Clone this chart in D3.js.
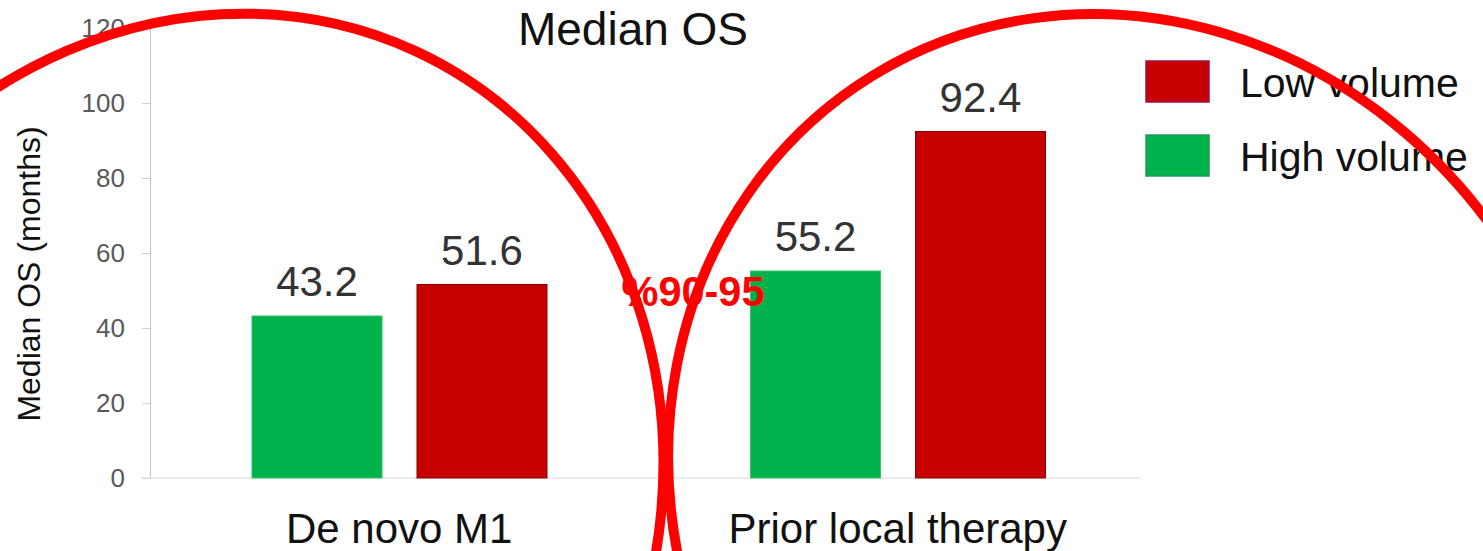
<!DOCTYPE html>
<html>
<head>
<meta charset="utf-8">
<script src="https://cdn.jsdelivr.net/npm/d3@7"></script>
<style>
  html, body { margin: 0; padding: 0; background: #ffffff; }
  svg { display: block; font-family: "Liberation Sans", Arial, sans-serif; }
</style>
</head>
<body>
<svg id="chart" width="1483" height="551"></svg>
<script>
// Median overall survival by disease volume
const categories = ["De novo M1", "Prior local therapy"];
const seriesNames = ["High volume", "Low volume"];
const highVolume = [43.2, 55.2];
const lowVolume = [51.6, 92.4];
const yTicks = [0, 20, 40, 60, 80, 100, 120];
const legendOrder = ["Low volume", "High volume"];
const chartTitle = "Median OS";
const yTitle = "Median OS (months)";
const noteText = "%90-95";

const fills = { "High volume": "#00b14c", "Low volume": "#c60000" };
const edges = { "High volume": "#37c46b", "Low volume": "#8f0000" };
const swatchEdges = { "High volume": "#1f9a5a", "Low volume": "#9a1050" };

const W = 1483, H = 551;
const plot = { left: 150, right: 1147, top: 28, bottom: 478 };

const svg = d3.select("#chart");

const y = d3.scaleLinear().domain([0, 120]).range([plot.bottom, plot.top]);
const x0 = d3.scaleBand().domain(categories).range([plot.left, plot.right]).padding(0);
const x1 = d3.scaleBand().domain(seriesNames).range([102, 397]).paddingInner(0.212).paddingOuter(0);

const rows = categories.map((c, i) => ({
  category: c,
  values: [
    { series: "High volume", value: highVolume[i] },
    { series: "Low volume", value: lowVolume[i] }
  ]
}));

// title
svg.append("text")
  .attr("x", 633).attr("y", 45)
  .attr("text-anchor", "middle")
  .attr("font-size", 46)
  .attr("fill", "#111")
  .text(chartTitle);

// y axis
const yAxis = svg.append("g")
  .attr("transform", `translate(${plot.left},0)`)
  .call(d3.axisLeft(y).tickValues(yTicks).tickSize(8).tickSizeOuter(0).tickPadding(17));
yAxis.select(".domain").attr("stroke", "#c4c4c4");
yAxis.selectAll(".tick line").attr("stroke", "#d0d0d0");
yAxis.selectAll(".tick text")
  .attr("font-size", 26)
  .attr("fill", "#595959")
  .attr("font-family", "Liberation Sans, Arial, sans-serif");

// baseline
svg.append("line")
  .attr("x1", plot.left - 8).attr("x2", 1141)
  .attr("y1", y(0)).attr("y2", y(0))
  .attr("stroke", "#d9d9d9").attr("stroke-width", 1.2);

// y title
svg.append("text")
  .attr("transform", "translate(40,274) rotate(-90)")
  .attr("text-anchor", "middle")
  .attr("font-size", 32)
  .attr("fill", "#111")
  .text(yTitle);

// bars
const groups = svg.selectAll("g.group")
  .data(rows).join("g")
  .attr("class", "group")
  .attr("transform", d => `translate(${x0(d.category)},0)`);

groups.selectAll("rect")
  .data(d => d.values).join("rect")
  .attr("x", d => x1(d.series))
  .attr("y", d => y(d.value))
  .attr("width", x1.bandwidth())
  .attr("height", d => y(0) - y(d.value))
  .attr("fill", d => fills[d.series])
  .attr("stroke", d => edges[d.series])
  .attr("stroke-width", 1);

// value labels
groups.selectAll("text.vlabel")
  .data(d => d.values).join("text")
  .attr("class", "vlabel")
  .attr("x", d => x1(d.series) + x1.bandwidth() / 2)
  .attr("y", d => y(d.value) - 20)
  .attr("text-anchor", "middle")
  .attr("font-size", 42)
  .attr("fill", "#333")
  .text(d => d.value.toFixed(1));

// category labels
svg.selectAll("text.cat")
  .data(categories).join("text")
  .attr("class", "cat")
  .attr("x", d => x0(d) + x0.bandwidth() / 2)
  .attr("y", 543)
  .attr("text-anchor", "middle")
  .attr("font-size", 42)
  .attr("fill", "#111")
  .text(d => d);

// legend
const legend = svg.append("g").attr("transform", "translate(1146,61)");
const item = legend.selectAll("g")
  .data(legendOrder).join("g")
  .attr("transform", (d, i) => `translate(0,${i * 74})`);
item.append("rect")
  .attr("width", 63).attr("height", 41)
  .attr("fill", d => fills[d])
  .attr("stroke", d => swatchEdges[d])
  .attr("stroke-width", 1.5);
item.append("text")
  .attr("x", 94).attr("y", 36)
  .attr("font-size", 41)
  .attr("fill", "#111")
  .text(d => d);

// highlight rings
const rings = [
  { cx: 206, cy: 504, rx: 448, ry: 499, angle: 24.9 },
  { cx: 1130, cy: 495, rx: 450, ry: 492, angle: -31.5 }
];
svg.selectAll("ellipse.ring")
  .data(rings).join("ellipse")
  .attr("class", "ring")
  .attr("transform", d => `translate(${d.cx},${d.cy}) rotate(${d.angle})`)
  .attr("rx", d => d.rx).attr("ry", d => d.ry)
  .attr("fill", "none")
  .attr("stroke", "#ff0000")
  .attr("stroke-width", 10);

// overlap note
svg.append("text")
  .attr("x", 693).attr("y", 306)
  .attr("text-anchor", "middle")
  .attr("font-size", 43)
  .attr("font-weight", "bold")
  .attr("fill", "#ff0000")
  .attr("textLength", 143)
  .attr("lengthAdjust", "spacingAndGlyphs")
  .attr("direction", "ltr")
  .text(noteText);
</script>
</body>
</html>
